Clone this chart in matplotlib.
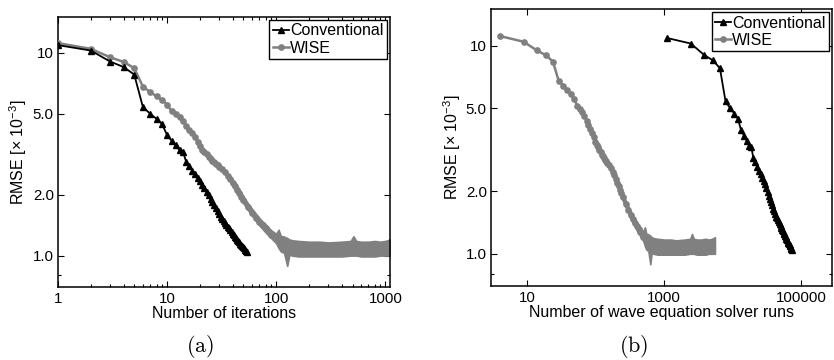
import numpy as np
import matplotlib
matplotlib.use("Agg")
import matplotlib.pyplot as plt
from matplotlib.ticker import FixedLocator, NullFormatter, NullLocator, LogLocator

plt.rcParams['font.family'] = ['Liberation Sans', 'DejaVu Sans']
plt.rcParams['mathtext.fontset'] = 'custom'
plt.rcParams['mathtext.rm'] = 'Liberation Sans'
plt.rcParams['mathtext.it'] = 'Liberation Sans:italic'

# ---------------- data ----------------
conv_iter = list(range(1, 55))
conv_rmse = [10.9, 10.25, 9.05, 8.5, 7.8, 5.4, 5.0, 4.72, 4.45, 3.92,
             3.68, 3.5, 3.3, 3.25, 2.88, 2.75, 2.62, 2.51, 2.42, 2.32,
             2.24, 2.16, 2.06, 1.98, 1.9, 1.83, 1.77, 1.71, 1.65, 1.6,
             1.55, 1.51, 1.48, 1.45, 1.42, 1.39, 1.36, 1.33, 1.30, 1.28,
             1.26, 1.24, 1.22, 1.20, 1.18, 1.16, 1.145, 1.13, 1.115, 1.10,
             1.085, 1.07, 1.055, 1.04]

wise_iter = list(range(1, 31)) + [32, 34, 36, 38, 40, 42, 44, 46, 48, 50,
                                  55, 60, 65, 70, 75, 80, 85, 90, 95, 100,
                                  110, 120, 130]
wise_rmse = [11.15, 10.45, 9.5, 9.0, 8.4, 6.8, 6.4, 6.1, 5.85, 5.55,
             5.15, 4.97, 4.82, 4.62, 4.37, 4.17, 4.0, 3.82, 3.65, 3.45,
             3.33, 3.25, 3.15, 3.07, 3.0, 2.94, 2.88, 2.83, 2.78, 2.73,
             2.66, 2.58, 2.48, 2.38, 2.29, 2.2, 2.11, 2.03, 1.95, 1.88,
             1.74, 1.63, 1.54, 1.47, 1.41, 1.36, 1.31, 1.27, 1.24, 1.21,
             1.17, 1.14, 1.12]

# envelope of the dense / oscillating part of the WISE curve
band_iter = [38, 45, 50, 55, 60, 70, 80, 90, 100, 105, 110, 118, 126, 132,
             140, 160, 200, 250, 300, 400, 480, 510, 540, 600, 700, 800,
             900, 1000, 1100]
band_high = [2.46, 2.16, 1.96, 1.81, 1.70, 1.53, 1.42, 1.33, 1.28, 1.34,
             1.25, 1.24, 1.22, 1.20, 1.19, 1.18, 1.17, 1.17, 1.16, 1.17,
             1.18, 1.245, 1.18, 1.17, 1.17, 1.18, 1.17, 1.18, 1.20]
band_low = [2.30, 1.99, 1.81, 1.68, 1.57, 1.41, 1.30, 1.22, 1.15, 1.09,
            1.05, 1.03, 0.89, 1.01, 1.0, 0.99, 0.99, 0.99, 0.99, 0.99,
            1.0, 1.0, 1.0, 0.99, 0.99, 0.99, 1.0, 1.0, 1.0]

# wave-equation solver runs per iteration
conv_runs_per_iter = 1350
conv_runs_offset = 250
wise_runs_per_iter = 5
wise_runs_offset = 1

conv_runs = [k * conv_runs_per_iter - conv_runs_offset for k in conv_iter]
wise_runs = [k * wise_runs_per_iter - wise_runs_offset for k in wise_iter]
band_runs = [k * wise_runs_per_iter - wise_runs_offset for k in band_iter]

ytick_vals = [1, 2, 5, 10]
ytick_labels = ['1.0', '2.0', '5.0', '10']

# ---------------- figure ----------------
fig = plt.figure(figsize=(8.34, 3.6), dpi=100)
ax1 = fig.add_axes([0.0695, 0.2028, 0.398, 0.75])
ax2 = fig.add_axes([0.5887, 0.2056, 0.409, 0.769])

GRAY = '#808080'
FS = 11.5
TFS = 10.8


def draw(ax, xc, xw, xb):
    ax.fill_between(xb, band_low, band_high, color=GRAY, lw=1.2,
                    edgecolor=GRAY, zorder=2)
    ax.plot(xc, conv_rmse, '-^', color='black', lw=1.3, ms=4.5,
            mec='black', mfc='black', label='Conventional', zorder=4)
    ax.plot(xw, wise_rmse, '-o', color=GRAY, lw=1.8, ms=3.8,
            mec=GRAY, mfc=GRAY, label='WISE', zorder=3)
    ax.set_xscale('log')
    ax.set_yscale('log')
    ax.set_ylim(0.7, 15)
    ax.yaxis.set_major_locator(FixedLocator(ytick_vals))
    ax.set_yticklabels(ytick_labels)
    ax.yaxis.set_minor_locator(FixedLocator([0.8]))
    ax.yaxis.set_minor_formatter(NullFormatter())
    ax.tick_params(which='both', direction='in', top=True, right=True,
                   labelsize=TFS, width=0.8)
    ax.tick_params(which='major', length=4)
    ax.tick_params(which='minor', length=2.5)
    ax.tick_params(axis='y', pad=3)
    for s in ax.spines.values():
        s.set_linewidth(1.1)
    leg = ax.legend(loc='upper right', fontsize=FS, frameon=True, fancybox=False,
                    framealpha=1, edgecolor='black', borderaxespad=0.2,
                    borderpad=0.2, handlelength=1.0, handletextpad=0.1,
                    labelspacing=0.15, numpoints=1)
    leg.get_frame().set_linewidth(1.0)
    ax.set_ylabel('RMSE [× 10$^{-3}$]', fontsize=FS)


draw(ax1, conv_iter, wise_iter, band_iter)
ax1.set_xlim(1, 1100)
ax1.xaxis.set_major_locator(FixedLocator([1, 10, 100, 1000]))
ax1.set_xticklabels(['1', '10', '100', '1000'])
ax1.xaxis.set_minor_locator(LogLocator(base=10, subs=np.arange(2, 10)))
ax1.xaxis.set_minor_formatter(NullFormatter())
ax1.set_xlabel('Number of iterations', fontsize=FS)
ax1.xaxis.set_label_coords(0.5, -0.072)
ax1.yaxis.set_label_coords(-0.087, 0.5)

draw(ax2, conv_runs, wise_runs, band_runs)
ax2.set_xlim(3, 2.8e5)
ax2.xaxis.set_major_locator(FixedLocator([10, 1000, 100000]))
ax2.set_xticklabels(['10', '1000', '100000'])
ax2.xaxis.set_minor_locator(NullLocator())
ax2.set_xlabel('Number of wave equation solver runs', fontsize=FS)
ax2.xaxis.set_label_coords(0.5, -0.068)
ax2.yaxis.set_label_coords(-0.081, 0.5)

fig.text(200 / 834, 1 - 346 / 360, r'$\mathrm{(a)}$', math_fontfamily='cm',
         ha='center', va='center', fontsize=16)
fig.text(634 / 834, 1 - 346 / 360, r'$\mathrm{(b)}$', math_fontfamily='cm',
         ha='center', va='center', fontsize=16)

fig.savefig('out.png', dpi=100)
